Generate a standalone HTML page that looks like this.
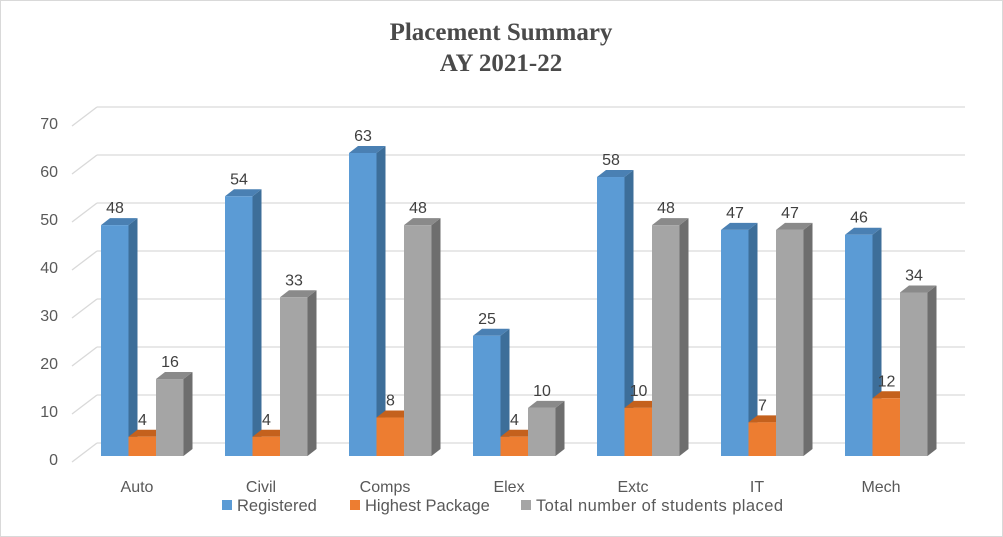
<!DOCTYPE html>
<html><head><style>
body{margin:0;background:#fff}
svg{display:block;font-family:"Liberation Sans",sans-serif}
</style></head><body>
<svg width="1003" height="537" viewBox="0 0 1003 537" xmlns="http://www.w3.org/2000/svg">
<rect x="0.5" y="0.5" width="1002" height="536" fill="#fff" stroke="#d9d9d9"/>
<text x="501" y="40" text-anchor="middle" font-family="Liberation Serif,serif" font-weight="bold" font-size="25" fill="#4a4a4a">Placement Summary</text>
<text x="501" y="71" text-anchor="middle" font-family="Liberation Serif,serif" font-weight="bold" font-size="25" fill="#4a4a4a">AY 2021-22</text>
<g id="grid" stroke="#d9d9d9" stroke-width="1.3" fill="none"></g>
<g id="ylab" font-size="16" fill="#595959" text-anchor="end"></g>
<g id="bars"></g>
<g id="vals" font-size="16" fill="#404040" text-anchor="middle"></g>
<g id="cats" font-size="16" fill="#595959" text-anchor="middle"></g>
<g font-size="16.5" fill="#595959">
<rect x="222" y="500" width="10" height="10" fill="#5b9bd5"/><text x="237" y="511">Registered</text>
<rect x="350" y="500" width="10" height="10" fill="#ed7d31"/><text x="365" y="511">Highest Package</text>
<rect x="521" y="500" width="10" height="10" fill="#a5a5a5"/><text x="536" y="511" textLength="247">Total number of students placed</text>
</g>
</svg>
<script>
const NS="http://www.w3.org/2000/svg";
function el(p,t,a,txt){const e=document.createElementNS(NS,t);for(const k in a)e.setAttribute(k,a[k]);if(txt!==undefined)e.textContent=txt;document.getElementById(p).appendChild(e);}
for(let v=0;v<=70;v+=10){const y=443-v*4.8;
el("grid","line",{x1:97,y1:y,x2:965,y2:y});
el("grid","line",{x1:72,y1:y+19,x2:97,y2:y});
el("ylab","text",{x:58,y:y+22},String(v));}
const cats=["Auto","Civil","Comps","Elex","Extc","IT","Mech"];
const data=[[48,4,16],[54,4,33],[63,8,48],[25,4,10],[58,10,48],[47,7,47],[46,12,34]];
const cols=[["#5b9bd5","#3d6e99","#4a80b3"],["#ed7d31","#ae5a23","#c4611d"],["#a5a5a5","#6e6e6e","#8a8a8a"]];
const B=456,W=27.5,DX=9,DY=7;
cats.forEach((c,i)=>{const gx=101+i*124;
 data[i].forEach((v,s)=>{const x=gx+s*W,y=B-v*4.81,f=cols[s];
  el("bars","polygon",{points:`${x+W},${y} ${x+W+DX},${y-DY} ${x+W+DX},${B-DY} ${x+W},${B}`,fill:f[1]});
  el("bars","polygon",{points:`${x},${y} ${x+DX},${y-DY} ${x+W+DX},${y-DY} ${x+W},${y}`,fill:f[2]});
  el("bars","rect",{x:x,y:y,width:W,height:B-y,fill:f[0]});
  el("vals","text",{x:x+14,y:y-12},String(v));
 });
 el("cats","text",{x:gx+36,y:492},c);
});
</script>
</body></html>
